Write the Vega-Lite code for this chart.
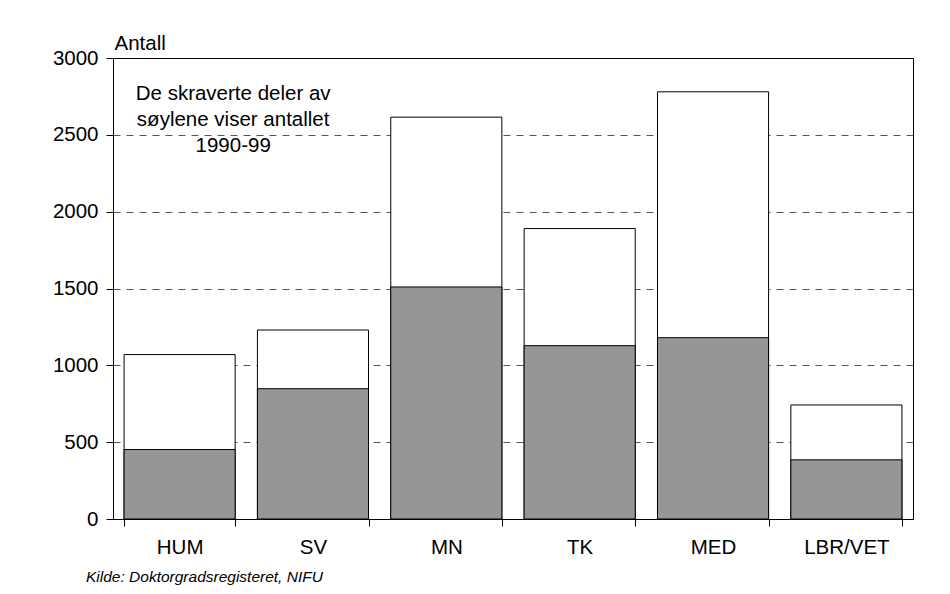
{
  "$schema": "https://vega.github.io/schema/vega-lite/v6.json",
  "width": 800,
  "height": 461,
  "autosize": "none",
  "padding": {"left": 113, "top": 58, "right": 37, "bottom": 75},
  "background": "white",
  "config": {
    "font": "Liberation Sans",
    "view": {"stroke": "black", "strokeWidth": 1},
    "axis": {
      "labelFont": "Liberation Sans",
      "labelColor": "black",
      "labelFontSize": 20.5,
      "tickColor": "black",
      "domainColor": "black",
      "tickSize": 7,
      "titleFont": "Liberation Sans",
      "titleFontWeight": "normal",
      "titleColor": "black"
    }
  },
  "title": {
    "text": "Kilde: Doktorgradsregisteret, NIFU",
    "orient": "bottom",
    "anchor": "start",
    "frame": "group",
    "font": "Liberation Sans",
    "fontStyle": "italic",
    "fontWeight": "normal",
    "fontSize": 15.5,
    "color": "black",
    "dx": -27,
    "offset": 12
  },
  "data": {
    "values": [
      {"fag": "HUM", "total": 1070, "del": 452},
      {"fag": "SV", "total": 1230, "del": 848},
      {"fag": "MN", "total": 2615, "del": 1510},
      {"fag": "TK", "total": 1890, "del": 1128},
      {"fag": "MED", "total": 2780, "del": 1180},
      {"fag": "LBR/VET", "total": 742, "del": 385}
    ]
  },
  "layer": [
    {
      "mark": {"type": "bar", "fill": "white", "stroke": "black", "strokeWidth": 1},
      "encoding": {
        "x": {
          "field": "fag",
          "type": "nominal",
          "sort": null,
          "scale": {"paddingInner": 0.167, "paddingOuter": 0.083},
          "axis": {
            "title": null,
            "labelAngle": 0,
            "tickBand": "extent",
            "labelPadding": 11,
            "grid": false
          }
        },
        "y": {
          "field": "total",
          "type": "quantitative",
          "scale": {"domain": [0, 3000], "nice": false},
          "axis": {
            "title": "Antall",
            "titleAngle": 0,
            "titleAlign": "left",
            "titleBaseline": "alphabetic",
            "titleX": 1,
            "titleY": -9,
            "titleFontSize": 20.5,
            "values": [0, 500, 1000, 1500, 2000, 2500, 3000],
            "format": "d",
            "labelPadding": 8,
            "grid": true,
            "gridColor": "#555555",
            "gridDash": [7, 6],
            "gridOpacity": {"condition": {"test": "datum.value == 0 || datum.value == 3000", "value": 0}, "value": 1}
          }
        }
      }
    },
    {
      "mark": {"type": "bar", "fill": "#969696", "stroke": "black", "strokeWidth": 1},
      "encoding": {
        "x": {"field": "fag", "type": "nominal", "sort": null},
        "y": {"field": "del", "type": "quantitative"}
      }
    },
    {
      "data": {"values": [{"fag": "HUM", "y": 2830, "note": "De skraverte deler av\nsøylene viser antallet\n1990-99"}]},
      "mark": {"type": "text", "lineBreak": "\n", "align": "center", "baseline": "top", "fontSize": 20.5, "font": "Liberation Sans", "color": "black", "dx": -2, "lineHeight": 26},
      "encoding": {
        "x": {"field": "fag", "type": "nominal", "sort": null, "bandPosition": 1},
        "y": {"field": "y", "type": "quantitative"},
        "text": {"field": "note"}
      }
    }
  ]
}
